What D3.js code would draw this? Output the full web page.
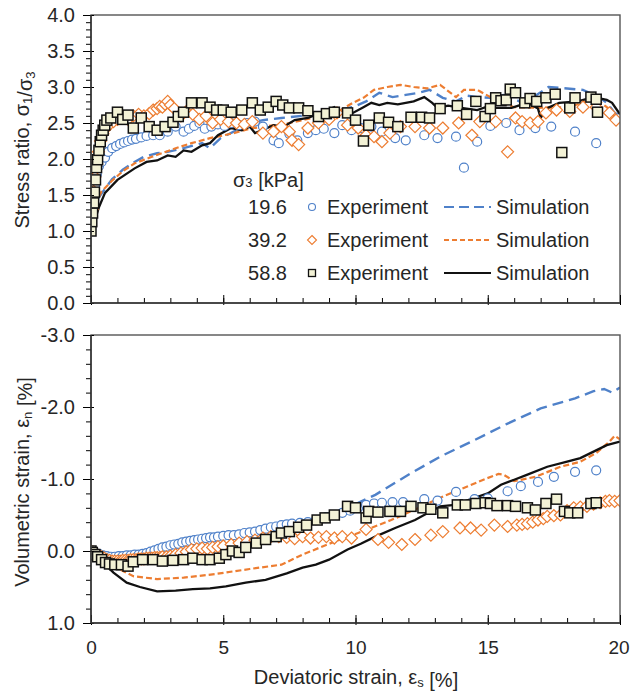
<!DOCTYPE html>
<html>
<head>
<meta charset="utf-8">
<script src="https://cdn.jsdelivr.net/npm/d3@7"></script>
<style>
  body { margin: 0; background: #fff; }
  text { font-family: "Liberation Sans", Arial, sans-serif; fill: #262626; }
</style>
</head>
<body>
<div id="chart"></div>
<script>
// Triaxial test: stress ratio and volumetric strain vs deviatoric strain

// confining pressures (kPa)
const pressures = ['19.6', '39.2', '58.8'];

// tick values
const strainTicks = [0, 5, 10, 15, 20];
const ratioTicks = [0, 0.5, 1, 1.5, 2, 2.5, 3, 3.5, 4];
const volTicks = [1, 0, -1, -2, -3];

// --- top panel: stress ratio, experiments [strain, ratio]
const expRatio196 = [[0.05,1.25],[0.1,1.45],[0.15,1.62],[0.22,1.78],[0.3,1.9],[0.4,1.96],[0.53,2.02],[0.65,2.1],[0.8,2.15],[0.95,2.18],[1.1,2.21],[1.25,2.23],[1.4,2.25],[1.55,2.27],[1.7,2.28],[1.9,2.3],[2.1,2.32],[2.35,2.33],[2.6,2.33],[2.9,2.38],[3.2,2.45],[3.5,2.38],[3.7,2.42],[3.9,2.46],[4.1,2.5],[4.3,2.42],[4.55,2.45],[4.8,2.48],[5.05,2.46],[5.3,2.5],[5.6,2.47],[5.9,2.5],[6.2,2.52],[6.5,2.45],[6.9,2.26],[7.1,2.22],[7.5,2.35],[7.8,2.26],[8.2,2.36],[8.5,2.4],[8.8,2.42],[9.2,2.36],[9.5,2.47],[9.85,2.4],[10.2,2.43],[10.6,2.45],[11.0,2.38],[11.5,2.29],[11.9,2.26],[12.6,2.33],[13.1,2.29],[13.8,2.31],[14.1,1.88],[14.6,2.24],[15.1,2.46],[15.7,2.5],[16.2,2.4],[16.8,2.43],[17.4,2.45],[18.3,2.38],[19.1,2.22]];
const expRatio392 = [[0.05,1.3],[0.1,1.55],[0.15,1.75],[0.2,1.95],[0.28,2.1],[0.36,2.25],[0.45,2.35],[0.55,2.42],[0.7,2.48],[0.85,2.52],[1.0,2.55],[1.2,2.6],[1.4,2.55],[1.6,2.6],[1.8,2.62],[2.0,2.6],[2.2,2.63],[2.35,2.68],[2.5,2.7],[2.6,2.73],[2.7,2.72],[2.8,2.76],[2.9,2.8],[3.0,2.75],[3.15,2.7],[3.4,2.6],[3.6,2.66],[3.85,2.62],[4.1,2.55],[4.35,2.6],[4.6,2.5],[4.9,2.55],[5.2,2.52],[5.5,2.5],[5.8,2.48],[6.1,2.52],[6.5,2.36],[6.9,2.38],[7.2,2.45],[7.5,2.38],[7.6,2.26],[7.85,2.2],[8.2,2.43],[8.6,2.5],[9.0,2.55],[9.3,2.64],[9.7,2.47],[10.1,2.43],[10.4,2.33],[10.7,2.31],[11.0,2.24],[11.3,2.36],[11.7,2.45],[12.25,2.45],[12.8,2.43],[13.3,2.43],[13.9,2.5],[14.4,2.33],[14.7,2.52],[15.3,2.52],[15.75,2.1],[16.05,2.57],[16.3,2.52],[16.6,2.5],[16.9,2.52],[17.2,2.64],[17.6,2.68],[18.1,2.66],[18.6,2.72],[19.1,2.72],[19.6,2.64],[19.85,2.54]];
const expRatio588 = [[0,1.0],[0.03,1.13],[0.06,1.25],[0.1,1.39],[0.13,1.54],[0.17,1.71],[0.21,1.88],[0.25,1.99],[0.3,2.12],[0.35,2.24],[0.4,2.33],[0.46,2.4],[0.52,2.47],[0.6,2.54],[0.75,2.57],[1.0,2.65],[1.2,2.55],[1.4,2.61],[1.6,2.43],[1.9,2.57],[2.2,2.45],[2.5,2.4],[2.8,2.45],[3.1,2.51],[3.3,2.59],[3.5,2.65],[3.8,2.78],[4.2,2.78],[4.5,2.72],[4.75,2.68],[5.0,2.68],[5.3,2.65],[5.7,2.68],[6.1,2.78],[6.4,2.68],[6.7,2.72],[7.0,2.8],[7.25,2.75],[7.5,2.71],[7.85,2.71],[8.2,2.67],[8.6,2.59],[8.9,2.63],[9.2,2.65],[9.7,2.64],[10.0,2.54],[10.3,2.25],[10.5,2.47],[10.9,2.57],[11.25,2.51],[11.6,2.45],[12.1,2.58],[12.5,2.58],[12.8,2.57],[13.2,2.7],[13.85,2.74],[14.2,2.62],[14.55,2.8],[14.9,2.59],[15.1,2.7],[15.3,2.85],[15.5,2.81],[15.7,2.82],[15.85,2.97],[16.05,2.92],[16.4,2.78],[16.6,2.84],[16.85,2.8],[17.2,2.85],[17.55,2.9],[17.8,2.09],[18.1,2.71],[18.3,2.85],[18.9,2.86],[19.1,2.83],[19.15,2.65]];

// --- top panel: simulations
const simRatio196 = [[0,1.0],[0.05,1.25],[0.2,1.42],[0.5,1.57],[0.8,1.72],[1.2,1.85],[1.6,1.95],[2.0,2.03],[2.5,2.08],[2.9,2.1],[3.5,2.15],[4.2,2.22],[4.5,2.15],[4.9,2.29],[5.5,2.4],[6.0,2.5],[6.5,2.54],[7.2,2.57],[8.0,2.6],[8.7,2.65],[9.3,2.68],[9.9,2.72],[10.4,2.8],[10.9,2.92],[11.4,2.86],[11.9,2.89],[12.4,2.92],[12.8,2.96],[13.3,2.85],[13.8,2.8],[14.2,2.88],[14.6,2.86],[15.1,2.85],[15.6,2.89],[16.2,2.8],[16.8,2.88],[17.3,3.0],[18.0,2.98],[18.6,2.96],[19.2,2.86],[19.5,2.78],[19.8,2.64],[20,2.6]];
const simRatio392 = [[0,1.0],[0.1,1.33],[0.4,1.55],[0.8,1.7],[1.2,1.83],[1.65,1.94],[2.3,2.03],[3.2,2.15],[3.8,2.22],[4.5,2.29],[5.4,2.36],[6.0,2.42],[6.5,2.45],[7.5,2.5],[8.5,2.58],[9.3,2.65],[9.9,2.78],[10.3,2.85],[10.7,2.96],[11.2,3.0],[11.7,3.03],[12.2,3.0],[12.7,2.98],[13.2,3.03],[13.8,2.86],[14.1,2.96],[14.6,2.96],[15.3,2.82],[16.0,2.72],[16.9,2.71],[18.0,2.72],[18.6,2.78],[19.0,2.86],[19.5,2.72],[19.9,2.54],[20,2.52]];
const simRatio588 = [[0,1.0],[0.15,1.15],[0.3,1.33],[0.53,1.53],[1.0,1.71],[1.65,1.87],[2.1,1.96],[2.5,1.98],[2.9,2.05],[3.2,2.03],[3.5,2.12],[3.8,2.1],[4.2,2.19],[4.5,2.22],[4.8,2.33],[5.3,2.43],[5.7,2.4],[6.0,2.45],[6.2,2.36],[6.6,2.42],[6.9,2.47],[7.3,2.45],[7.7,2.54],[8.2,2.57],[8.7,2.64],[9.2,2.72],[9.4,2.64],[9.9,2.64],[10.3,2.72],[10.6,2.78],[10.9,2.75],[11.2,2.78],[11.6,2.76],[12.2,2.8],[12.6,2.86],[12.9,2.78],[13.1,2.71],[13.5,2.74],[14.0,2.71],[14.6,2.68],[15.0,2.73],[15.3,2.71],[15.9,2.71],[16.5,2.78],[16.9,2.7],[17.0,2.57],[17.2,2.7],[17.7,2.78],[18.4,2.8],[19.0,2.86],[19.5,2.82],[19.7,2.78],[20,2.62]];

// --- bottom panel: volumetric strain, experiments [strain, vol]
const expVol196 = [[0,0],[0.15,0.02],[0.3,0.04],[0.45,0.06],[0.6,0.07],[0.75,0.08],[0.9,0.08],[1.05,0.07],[1.2,0.07],[1.35,0.06],[1.5,0.06],[1.65,0.05],[1.8,0.05],[1.95,0.04],[2.1,0.03],[2.25,0.01],[2.4,-0.01],[2.55,-0.03],[2.7,-0.05],[2.85,-0.06],[3.0,-0.08],[3.15,-0.09],[3.3,-0.1],[3.45,-0.12],[3.6,-0.13],[3.75,-0.14],[3.9,-0.15],[4.05,-0.16],[4.2,-0.17],[4.35,-0.18],[4.5,-0.19],[4.65,-0.19],[4.8,-0.2],[5.0,-0.21],[5.2,-0.22],[5.4,-0.22],[5.6,-0.23],[5.8,-0.25],[6.0,-0.26],[6.2,-0.27],[6.4,-0.29],[6.6,-0.31],[6.8,-0.33],[7.0,-0.34],[7.2,-0.36],[7.4,-0.37],[7.6,-0.38],[7.9,-0.39],[8.2,-0.4],[8.5,-0.43],[8.9,-0.47],[9.2,-0.5],[9.5,-0.53],[9.8,-0.56],[10.1,-0.6],[10.4,-0.64],[10.7,-0.66],[11.0,-0.67],[11.4,-0.68],[11.8,-0.68],[12.6,-0.72],[13.1,-0.7],[13.8,-0.82],[14.5,-0.72],[15.0,-0.73],[15.75,-0.83],[16.25,-0.9],[16.9,-0.96],[17.5,-1.03],[18.3,-1.1],[19.1,-1.12]];
const expVol392 = [[0,0],[0.1,0.02],[0.2,0.04],[0.3,0.06],[0.4,0.08],[0.5,0.1],[0.6,0.12],[0.7,0.13],[0.8,0.14],[0.9,0.14],[1.0,0.14],[1.1,0.14],[1.2,0.13],[1.3,0.13],[1.4,0.13],[1.5,0.12],[1.6,0.12],[1.7,0.12],[1.8,0.11],[1.9,0.11],[2.0,0.11],[2.1,0.1],[2.2,0.1],[2.3,0.1],[2.4,0.09],[2.5,0.09],[2.6,0.09],[2.7,0.08],[2.85,0.08],[3.0,0.07],[3.2,0.05],[3.4,0.03],[3.6,0.01],[3.8,-0.02],[4.0,-0.03],[4.2,-0.04],[4.4,-0.03],[4.6,-0.05],[4.8,-0.06],[5.0,-0.07],[5.3,-0.09],[5.6,-0.11],[5.9,-0.13],[6.2,-0.15],[6.5,-0.18],[6.8,-0.2],[7.1,-0.2],[7.4,-0.19],[7.7,-0.17],[8.0,-0.2],[8.3,-0.18],[8.6,-0.19],[8.9,-0.2],[9.2,-0.18],[9.5,-0.2],[9.85,-0.18],[10.4,-0.3],[10.85,-0.16],[11.25,-0.12],[11.75,-0.09],[12.25,-0.16],[12.85,-0.22],[13.3,-0.27],[13.95,-0.32],[14.35,-0.32],[14.75,-0.29],[15.25,-0.36],[15.75,-0.34],[16.1,-0.36],[16.3,-0.37],[16.5,-0.38],[16.7,-0.4],[16.9,-0.43],[17.1,-0.45],[17.25,-0.48],[17.5,-0.49],[17.75,-0.5],[18.0,-0.56],[18.25,-0.6],[18.5,-0.61],[18.75,-0.62],[19.0,-0.65],[19.25,-0.67],[19.45,-0.69],[19.6,-0.7],[19.8,-0.69],[20,-0.7]];
const expVol588 = [[0,0],[0.05,0.02],[0.15,0.05],[0.25,0.08],[0.4,0.12],[0.55,0.16],[0.7,0.18],[0.9,0.19],[1.15,0.19],[1.4,0.21],[1.6,0.15],[1.95,0.12],[2.35,0.12],[2.7,0.14],[3.1,0.13],[3.5,0.12],[3.85,0.1],[4.2,0.12],[4.5,0.12],[4.85,0.1],[5.1,0.05],[5.35,0.0],[5.6,0.02],[5.85,-0.05],[6.25,-0.11],[6.6,-0.16],[7.0,-0.2],[7.2,-0.25],[7.5,-0.27],[7.85,-0.33],[8.15,-0.36],[8.55,-0.43],[8.85,-0.46],[9.2,-0.5],[9.7,-0.62],[10.0,-0.6],[10.4,-0.46],[10.5,-0.55],[10.85,-0.54],[11.3,-0.55],[11.7,-0.55],[12.1,-0.62],[12.55,-0.6],[12.85,-0.58],[13.3,-0.53],[13.85,-0.64],[14.15,-0.64],[14.55,-0.66],[14.9,-0.67],[15.1,-0.66],[15.35,-0.63],[15.75,-0.63],[16.05,-0.62],[16.5,-0.6],[16.8,-0.57],[17.2,-0.66],[17.6,-0.72],[17.9,-0.55],[18.1,-0.53],[18.4,-0.53],[18.9,-0.66],[19.1,-0.67]];

// --- bottom panel: simulations
const simVol196 = [[0,0],[0.5,0.06],[1.0,0.07],[2.0,0.03],[3.0,-0.08],[4.0,-0.16],[5.0,-0.21],[6.0,-0.26],[7.0,-0.34],[8.0,-0.4],[9.0,-0.48],[9.7,-0.6],[10.75,-0.78],[12,-1.06],[13.2,-1.31],[14.5,-1.54],[15.75,-1.77],[17,-1.98],[18.3,-2.12],[19.0,-2.22],[19.4,-2.25],[19.7,-2.2],[20,-2.27]];
const simVol392 = [[0,0],[0.35,0.03],[0.85,0.21],[1.6,0.35],[2.5,0.39],[3.5,0.37],[4.7,0.32],[6.0,0.25],[7.2,0.19],[8.0,0.05],[9.0,-0.1],[10.1,-0.25],[11.35,-0.43],[12.4,-0.6],[13.2,-0.74],[14.25,-0.9],[14.9,-1.0],[15.4,-1.07],[15.6,-1.06],[16.0,-0.97],[16.8,-1.03],[17.75,-1.17],[18.5,-1.24],[19.1,-1.36],[19.6,-1.52],[19.8,-1.6],[20,-1.55]];
const simVol588 = [[0,0],[0.35,0.12],[0.85,0.3],[1.35,0.44],[1.85,0.5],[2.5,0.56],[3.2,0.55],[3.85,0.53],[4.5,0.52],[5.1,0.49],[5.85,0.44],[6.6,0.4],[7.4,0.31],[8.0,0.23],[8.5,0.19],[9.0,0.12],[9.7,-0.02],[10.2,-0.1],[10.75,-0.2],[11.5,-0.32],[12.25,-0.43],[12.75,-0.53],[13.2,-0.62],[13.75,-0.64],[14.5,-0.74],[15.0,-0.8],[15.5,-0.92],[16.0,-0.99],[16.5,-1.06],[17.25,-1.17],[18.0,-1.24],[18.5,-1.29],[19.0,-1.38],[19.5,-1.47],[20,-1.52]];

const blue = '#4f81c9', orange = '#ed7d31', black = '#111';
const fontSize = 20;
const fmt1 = d => d.toFixed(1);

const svg = d3.select('#chart').append('svg')
    .attr('width', 630)
    .attr('height', 693);

let x = d3.scaleLinear().domain([0, 20]).range([91, 620]);
let yRatio = d3.scaleLinear().domain([0, 4]).range([303, 15]);
let yVol = d3.scaleLinear().domain([1, -3]).range([623, 335]);

// clip paths for each panel
const defs = svg.append('defs');
[['clipTop', yRatio], ['clipBot', yVol]].forEach(([id, y]) => {
    defs.append('clipPath').attr('id', id).append('rect')
        .attr('x', x.range()[0]).attr('y', y.range()[1])
        .attr('width', x.range()[1] - x.range()[0])
        .attr('height', y.range()[0] - y.range()[1]);
});

function markers(g, data, y, kind) {
    if (kind === 'circle') {
        g.selectAll(null).data(data).enter().append('circle')
            .attr('cx', d => x(d[0])).attr('cy', d => y(d[1])).attr('r', 4.5)
            .attr('fill', '#fff').attr('stroke', blue).attr('stroke-width', 1.2);
    } else if (kind === 'diamond') {
        g.selectAll(null).data(data).enter().append('path')
            .attr('d', 'M0,-6L6,0L0,6L-6,0Z')
            .attr('transform', d => `translate(${x(d[0])},${y(d[1])})`)
            .attr('fill', '#fff').attr('stroke', orange).attr('stroke-width', 1.2);
    } else {
        g.selectAll(null).data(data).enter().append('rect')
            .attr('x', d => x(d[0]) - 5).attr('y', d => y(d[1]) - 5)
            .attr('width', 10).attr('height', 10)
            .attr('fill', '#f3f2d6').attr('stroke', black).attr('stroke-width', 1.5);
    }
}

function simLine(g, data, y, color, dash, w) {
    g.append('path').datum(data)
        .attr('d', d3.line().x(d => x(d[0])).y(d => y(d[1])))
        .attr('fill', 'none').attr('stroke', color)
        .attr('stroke-width', w).attr('stroke-dasharray', dash);
}

function panel(y, major, minor, clipId, exps, sims, xLabels) {
    const [y0, y1] = y.range();
    const g = svg.append('g').attr('clip-path', `url(#${clipId})`);
    simLine(g, sims[0], y, blue, '11,6', 2.4);
    simLine(g, sims[1], y, orange, '6,3', 2.2);
    simLine(g, sims[2], y, black, null, 2.3);
    markers(g, exps[0], y, 'circle');
    markers(g, exps[1], y, 'diamond');
    markers(g, exps[2], y, 'square');

    // frame
    svg.append('rect')
        .attr('x', 91).attr('y', y1).attr('width', 529).attr('height', y0 - y1)
        .attr('fill', 'none').attr('stroke', '#555').attr('stroke-width', 1.4);

    // y ticks: minor then major
    svg.append('g').attr('transform', 'translate(91,0)')
        .call(d3.axisLeft(y).tickValues(minor).tickSize(5).tickFormat(''))
        .call(a => a.select('.domain').remove());
    svg.append('g').attr('transform', 'translate(91,0)')
        .call(d3.axisLeft(y).tickValues(major).tickSize(8).tickPadding(8).tickFormat(fmt1))
        .call(a => a.select('.domain').remove())
        .call(a => a.selectAll('.tick line').attr('x1', 3))
        .call(a => a.selectAll('text').attr('font-size', fontSize)
            .attr('font-family', '"Liberation Sans", Arial, sans-serif').attr('fill', '#262626'));

    // x ticks pointing up into the plot
    svg.append('g').attr('transform', `translate(0,${y0})`)
        .call(d3.axisBottom(x).tickValues(d3.range(0, 21)).tickSize(-5).tickFormat(''))
        .call(a => a.select('.domain').remove());
    svg.append('g').attr('transform', `translate(0,${y0})`)
        .call(d3.axisBottom(x).tickValues(strainTicks).tickSize(-8).tickPadding(18)
            .tickFormat(xLabels ? d3.format('d') : ''))
        .call(a => a.select('.domain').remove())
        .call(a => a.selectAll('.tick line').attr('y1', 2))
        .call(a => a.selectAll('text').attr('font-size', 19)
            .attr('font-family', '"Liberation Sans", Arial, sans-serif').attr('fill', '#262626')
            .attr('dx', d => d === 20 ? -1.5 : 0));

    // solid left and bottom axis lines
    svg.append('line').attr('x1', 91).attr('x2', 91).attr('y1', y1).attr('y2', y0)
        .attr('stroke', '#333').attr('stroke-width', 1.5);
    svg.append('line').attr('x1', 91).attr('x2', 620).attr('y1', y0).attr('y2', y0)
        .attr('stroke', '#333').attr('stroke-width', 1.5);
}

panel(yRatio, ratioTicks, d3.range(0, 41).map(i => i / 10), 'clipTop',
    [expRatio196, expRatio392, expRatio588], [simRatio196, simRatio392, simRatio588], false);
panel(yVol, volTicks, d3.range(0, 21).map(i => -3 + i / 5), 'clipBot',
    [expVol196, expVol392, expVol588], [simVol196, simVol392, simVol588], true);

// axis titles
function subText(t, parts) {
    parts.forEach(([s, sub]) => {
        if (sub) {
            t.append('tspan').text(s).attr('font-size', 13).attr('dy', 3);
            t.append('tspan').text('').attr('dy', -3);
        } else {
            t.append('tspan').text(s);
        }
    });
}

let tTop = svg.append('text').attr('text-anchor', 'middle').attr('font-size', fontSize)
    .attr('transform', 'translate(29,150) rotate(-90)');
subText(tTop, [['Stress ratio, σ'], ['1', true], ['/σ'], ['3', true]]);

let tBot = svg.append('text').attr('text-anchor', 'middle').attr('font-size', fontSize)
    .attr('transform', 'translate(29,482) rotate(-90)');
subText(tBot, [['Volumetric strain,  ε'], ['n', true], [' [%]']]);

let tX = svg.append('text').attr('text-anchor', 'middle').attr('font-size', fontSize)
    .attr('x', 356).attr('y', 684);
subText(tX, [['Deviatoric strain, ε'], ['s', true], [' [%]']]);

// legend
const leg = svg.append('g');
let lt = leg.append('text').attr('x', 233).attr('y', 187).attr('font-size', fontSize);
lt.append('tspan').text('σ');
lt.append('tspan').text('3').attr('font-size', 13);
lt.append('tspan').text(' [kPa]');

const legColors = [blue, orange, black];
const legDash = ['10,5', '5,3', null];
pressures.forEach((p, i) => {
    const by = 214 + i * 33, cy = by - 7;
    leg.append('text').attr('x', 287).attr('y', by).attr('text-anchor', 'end')
        .attr('font-size', fontSize).text(p);
    if (i === 0) leg.append('circle').attr('cx', 312).attr('cy', cy).attr('r', 3.5)
        .attr('fill', '#fff').attr('stroke', blue).attr('stroke-width', 1.1);
    if (i === 1) leg.append('path').attr('d', 'M0,-4.5L4.5,0L0,4.5L-4.5,0Z')
        .attr('transform', `translate(312,${cy})`)
        .attr('fill', '#fff').attr('stroke', orange).attr('stroke-width', 1.1);
    if (i === 2) leg.append('rect').attr('x', 308.5).attr('y', cy - 3.5).attr('width', 7).attr('height', 7)
        .attr('fill', '#f3f2d6').attr('stroke', black).attr('stroke-width', 1.3);
    leg.append('text').attr('x', 327).attr('y', by).attr('font-size', fontSize).text('Experiment');
    leg.append('line').attr('x1', 444).attr('x2', 491).attr('y1', cy).attr('y2', cy)
        .attr('stroke', legColors[i]).attr('stroke-width', 2.2).attr('stroke-dasharray', legDash[i]);
    leg.append('text').attr('x', 496).attr('y', by).attr('font-size', fontSize).text('Simulation');
});
</script>
</body>
</html>
